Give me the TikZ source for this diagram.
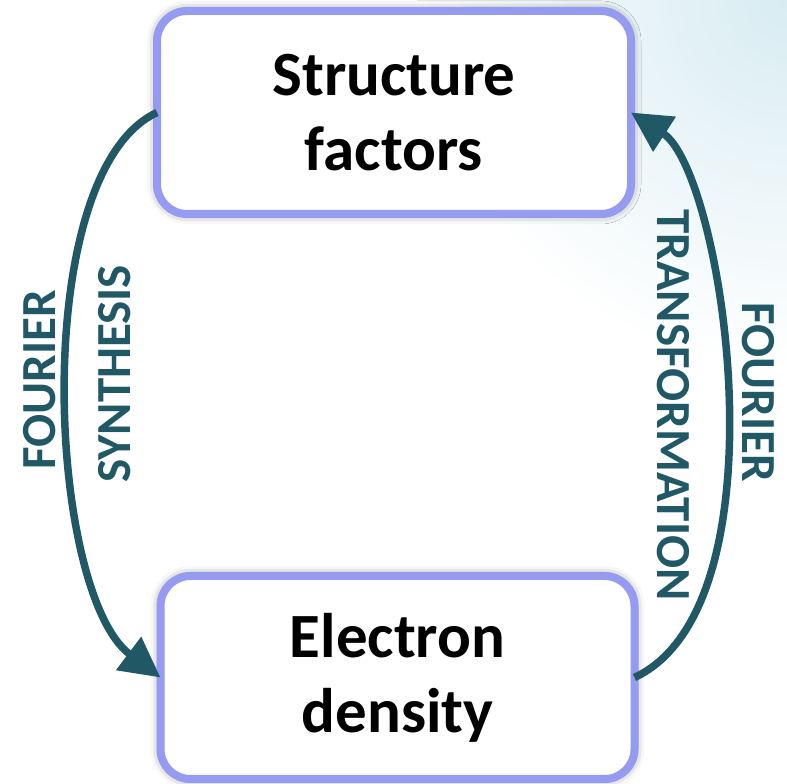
\documentclass[tikz,border=0pt]{standalone}
\usepackage{fontspec}
\setmainfont{Carlito}
\usetikzlibrary{arrows.meta,shadows.blur}
\definecolor{boxedge}{RGB}{148,155,240}
\definecolor{flow}{RGB}{32,88,101}
\definecolor{haze}{RGB}{216,236,242}
\begin{document}
\begin{tikzpicture}[x=1pt,y=1pt,
  stage/.style={draw=boxedge, line width=8pt, fill=white, rounded corners=30pt,
    minimum width=474pt, minimum height=203pt, inner sep=0pt, outer sep=0pt,
    align=center, font=\fontsize{63}{75}\selectfont\bfseries,
    blur shadow={shadow xshift=0pt, shadow yshift=0pt,
      shadow blur radius=10pt, shadow opacity=50}},
  flowarrow/.style={draw=flow, line width=7.5pt,
    -{Triangle[length=40pt,width=40pt]}},
  flowlabel/.style={text=flow, font=\fontsize{49}{52}\selectfont\bfseries,
    inner sep=0pt}]

\useasboundingbox (0,0) rectangle (787,784);

% soft tint in the upper right corner
\begin{scope}
  \clip (0,0) rectangle (787,784);
  \shade[inner color=haze, outer color=white] (787,784) circle (370);
\end{scope}

% the two stages
\node[stage] (sf) at (394,671.5) {Structure\\factors};
\node[stage] (ed) at (397.5,106.5) {Electron\\density};

% transforms between them
\draw[flowarrow] (sf.west) .. controls +(205:142) and +(143:142) .. (ed.west);
\draw[flowarrow] (ed.east) .. controls +(25:170) and +(-33:110) .. (sf.east);

% labels along the arcs
\node[flowlabel, rotate=90] (synA) at (40,404) {FOURIER};
\node[flowlabel, rotate=90] (synB) at (115,410) {SYNTHESIS};
\node[flowlabel, rotate=-90] (trB) at (673,379) {TRANSFORMATION};
\node[flowlabel, rotate=-90] (trA) at (758,392) {FOURIER};
\end{tikzpicture}
\end{document}
